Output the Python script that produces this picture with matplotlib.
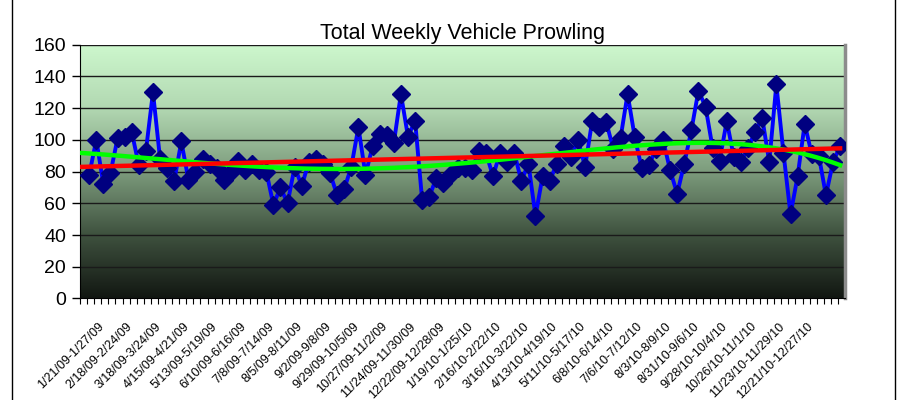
import numpy as np
import matplotlib
matplotlib.use("Agg")
import matplotlib.pyplot as plt
import matplotlib.transforms as mtransforms
from matplotlib.colors import LinearSegmentedColormap
from matplotlib.lines import Line2D

plt.rcParams['font.family'] = ['Liberation Sans', 'DejaVu Sans']

# weekly counts
prowls = [78, 100, 72, 79, 101, 102, 105, 84, 93, 130,
          88, 82, 74, 99, 75, 80, 88, 85, 82, 75,
          80, 87, 81, 85, 81, 80, 59, 70, 60, 83,
          71, 86, 88, 85, 79, 65, 69, 83, 108, 78,
          96, 104, 103, 98, 129, 102, 112, 62, 64, 76,
          73, 78, 82, 82, 81, 93, 92, 77, 92, 86,
          92, 74, 85, 52, 77, 74, 85, 96, 89, 100,
          83, 112, 108, 111, 94, 101, 129, 102, 82, 84,
          94, 100, 81, 66, 85, 106, 131, 121, 95, 87,
          112, 89, 86, 95, 105, 114, 86, 135, 92, 53,
          77, 110, 91, 90, 65, 86, 96]

# every 4th week gets a label
week_labels = ['1/21/09-1/27/09', '2/18/09-2/24/09', '3/18/09-3/24/09',
               '4/15/09-4/21/09', '5/13/09-5/19/09', '6/10/09-6/16/09',
               '7/8/09-7/14/09', '8/5/09-8/11/09', '9/2/09-9/8/09',
               '9/29/09-10/5/09', '10/27/09-11/2/09', '11/24/09-11/30/09',
               '12/22/09-12/28/09', '1/19/10-1/25/10', '2/16/10-2/22/10',
               '3/16/10-3/22/10', '4/13/10-4/19/10', '5/11/10-5/17/10',
               '6/8/10-6/14/10', '7/6/10-7/12/10', '8/3/10-8/9/10',
               '8/31/10-9/6/10', '9/28/10-10/4/10', '10/26/10-11/1/10',
               '11/23/10-11/29/10', '12/21/10-12/27/10']

n = len(prowls)
x = np.arange(n)
y = np.array(prowls, dtype=float)

fig = plt.figure(figsize=(8.99, 4.0), dpi=100)
ax = fig.add_axes([0.089, 0.254, 0.851, 0.634])

x0, x1 = -1.3, n - 0.3
ax.set_xlim(x0, x1)
ax.set_ylim(0, 160)

# gradient plot area
cmap = LinearSegmentedColormap.from_list('bg', [
    (0.0, '#121712'), (0.25, '#3f523f'), (0.5, '#7d9c7d'),
    (0.75, '#b2d8b2'), (1.0, '#cdf8cd')])
grad = np.linspace(0, 1, 256).reshape(-1, 1)
ax.imshow(grad, cmap=cmap, aspect='auto', origin='lower',
          extent=[x0, x1, 0, 160], zorder=0)

ax.set_yticks(np.arange(0, 161, 20))
ax.yaxis.grid(True, color='#1a1a1a', linewidth=1.0)
for gl in ax.get_ygridlines():
    gl.set_zorder(1)

ax.plot(x, y, color='#0000ff', linewidth=2.8, marker='D', markersize=9.5,
        markerfacecolor='#000080', markeredgecolor='#000080', zorder=3)

# trend lines: linear (red) and 4th order polynomial (green)
xt = np.linspace(-1.05, n - 1, 300)
lin = np.polyfit(x, y, 1)
poly = np.polyfit(x, y, 4)
ax.plot(xt, np.polyval(poly, xt), color='#00ff00', linewidth=3.2, zorder=4)
ax.plot(xt, np.polyval(lin, xt), color='#ff0000', linewidth=3.2, zorder=5)

# category labels, rotated, every 4th week
ax.set_xticks([])
shift = mtransforms.ScaledTranslation(0.09, -0.22, fig.dpi_scale_trans)
for xi, lab in zip(x[::4], week_labels):
    ax.text(xi, 0, lab, transform=ax.get_xaxis_transform() + shift,
            rotation=45, rotation_mode='anchor', ha='right', va='top',
            fontsize=9, clip_on=False)
ax.set_xticks(np.arange(x0, x1, 1.0), minor=True)
ax.tick_params(axis='x', which='minor', length=4, width=0.8)
ax.tick_params(axis='y', labelsize=14, length=6, width=1, pad=4)

ax.spines['top'].set_visible(False)
ax.spines['left'].set_color('black')
ax.spines['bottom'].set_color('black')
ax.spines['right'].set_color('#8c8c8c')
ax.spines['right'].set_linewidth(2.5)

ax.set_title('Total Weekly Vehicle Prowling', fontsize=15.5, pad=4)

# outer chart border
fig.add_artist(Line2D([12 / 899, 12 / 899], [0, 1], color='black', linewidth=1.0))
fig.add_artist(Line2D([895 / 899, 895 / 899], [0, 1], color='black', linewidth=1.0))

fig.savefig('out.png', dpi=100)
